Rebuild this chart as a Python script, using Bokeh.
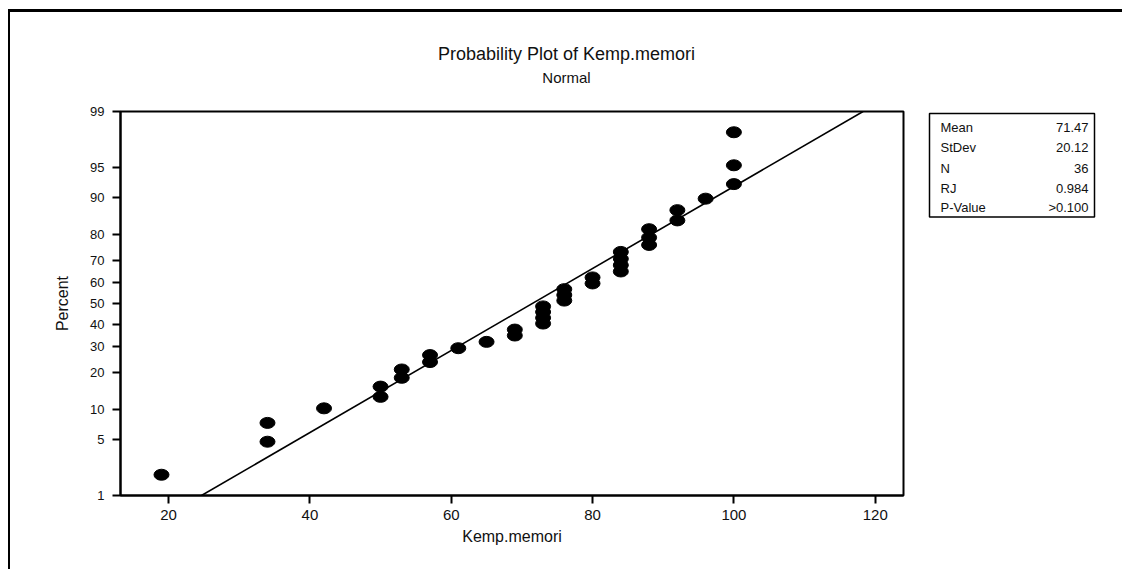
from statistics import NormalDist
from bokeh.plotting import figure
from bokeh.layouts import row, column
from bokeh.models import Range1d, FixedTicker, ColumnDataSource
from bokeh.core.properties import value
from bokeh.embed import file_html
from bokeh.resources import INLINE

# ---- data ----
kemp_memori = [19, 34, 34, 42, 50, 50, 53, 53, 57, 57, 61, 65, 69, 69,
               73, 73, 73, 73, 76, 76, 76, 80, 80, 84, 84, 84, 84,
               88, 88, 88, 92, 92, 96, 100, 100, 100]
percent = [1.9, 4.7, 7.4, 10.2, 12.9, 15.7, 18.4, 21.2, 23.9, 26.6, 29.4, 32.1,
           34.9, 37.6, 40.4, 43.1, 45.9, 48.6, 51.4, 54.1, 56.9, 59.6, 62.4,
           65.1, 67.9, 70.6, 73.4, 76.1, 78.8, 81.6, 84.3, 87.1, 89.8, 92.6,
           95.3, 98.1]
percent_ticks = [1, 5, 10, 20, 30, 40, 50, 60, 70, 80, 90, 95, 99]
x_ticks = [20, 40, 60, 80, 100, 120]
mean, stdev = 71.47, 20.12
stat_names = ["Mean", "StDev", "N", "RJ", "P-Value"]
stat_values = ["71.47", "20.12", "36", "0.984", ">0.100"]
title_lines = ["Probability Plot of Kemp.memori", "Normal"]

FONT = "Liberation Sans"
TXT = "#111111"
nd = NormalDist()
zq = lambda p: round(nd.inv_cdf(p / 100.0), 5)

z_pts = [zq(v) for v in percent]
z_ticks = [zq(v) for v in percent_ticks]
z_lo, z_hi = z_ticks[0], z_ticks[-1]

W1, W2 = 905, 207
HT = 87          # title strip height
H = 557 - HT     # plot height
TOP, BOT = 12, 74

# ---- title strip ----
pt = figure(width=W1 + W2, height=HT, output_backend="svg", toolbar_location=None,
            x_range=Range1d(0, W1 + W2), y_range=Range1d(HT, 0),
            x_axis_type=None, y_axis_type=None,
            min_border_left=0, min_border_right=0, min_border_top=0, min_border_bottom=0)
pt.grid.visible = False
pt.outline_line_color = None
pt.text(x=[556], y=[41], text=title_lines[:1], text_align="center",
        text_baseline="middle", text_font=value(FONT), text_font_size="18px",
        text_color=TXT)
pt.text(x=[556], y=[65], text=title_lines[1:], text_align="center",
        text_baseline="middle", text_font=value(FONT), text_font_size="15px",
        text_color=TXT)

# ---- main probability plot ----
p = figure(width=W1, height=H, output_backend="svg", toolbar_location=None,
           x_range=Range1d(13.2, 124.0), y_range=Range1d(z_lo, z_hi),
           min_border_left=110, min_border_right=12, min_border_top=TOP,
           min_border_bottom=BOT)
p.grid.visible = False
p.outline_line_color = "black"
p.outline_line_width = 2
p.outline_line_alpha = 1

# fitted line from mean / stdev
line_z = [z_lo, z_hi]
line_x = [mean + stdev * z for z in line_z]
p.line(line_x, line_z, line_color="black", line_width=1.6)

src = ColumnDataSource(dict(x=kemp_memori, y=z_pts))
p.ellipse(x="x", y="y", width=15, height=11, width_units="screen",
          height_units="screen", source=src, fill_color="black", line_color="black")

for ax in (p.xaxis[0], p.yaxis[0]):
    ax.axis_line_width = 2
    ax.axis_line_color = "black"
    ax.major_tick_line_width = 2
    ax.major_tick_out = 8
    ax.major_tick_in = 0
    ax.minor_tick_line_color = None
    ax.major_label_text_font = FONT
    ax.major_label_text_color = TXT
    ax.axis_label_text_font = FONT
    ax.axis_label_text_font_size = "16px"
    ax.axis_label_text_font_style = "normal"
    ax.axis_label_text_color = TXT

p.xaxis.ticker = FixedTicker(ticks=x_ticks)
p.xaxis.axis_label = "Kemp.memori"
p.xaxis.major_label_text_font_size = "15px"
p.xaxis.major_label_standoff = 6
p.xaxis.axis_label_standoff = 5

p.yaxis.ticker = FixedTicker(ticks=z_ticks)
p.yaxis.major_label_overrides = {z: str(v) for z, v in zip(z_ticks, percent_ticks)}
p.yaxis.major_label_text_font_size = "13px"
p.yaxis.axis_label = "Percent"
p.yaxis.major_label_standoff = 8
p.yaxis.axis_label_standoff = 16

# ---- stats box (frame aligned with main plot; pixel coords from frame top-left) ----
p2 = figure(width=W2, height=H, output_backend="svg", toolbar_location=None,
            x_range=Range1d(0, 180), y_range=Range1d(386, 0),
            x_axis_type=None, y_axis_type=None,
            min_border_left=12, min_border_right=W2 - 12 - 180, min_border_top=TOP,
            min_border_bottom=BOT)
p2.grid.visible = False
p2.outline_line_color = None
p2.quad(left=[2], right=[167], top=[2], bottom=[106], fill_color=None,
        line_color="black", line_width=1.5)
row_y = [16, 36, 57, 77, 97]
p2.text(x=[13] * 5, y=row_y, text=stat_names, text_align="left",
        text_baseline="middle", text_font=value(FONT), text_font_size="13px",
        text_color=TXT)
p2.text(x=[161] * 5, y=row_y, text=stat_values, text_align="right",
        text_baseline="middle", text_font=value(FONT), text_font_size="13px",
        text_color=TXT)

layout = column(pt, row(p, p2),
                styles={"border-top": "3px solid black",
                        "border-left": "2px solid black",
                        "margin-left": "8px", "margin-top": "9px"})

open("out.html", "w").write(file_html(layout, INLINE))
